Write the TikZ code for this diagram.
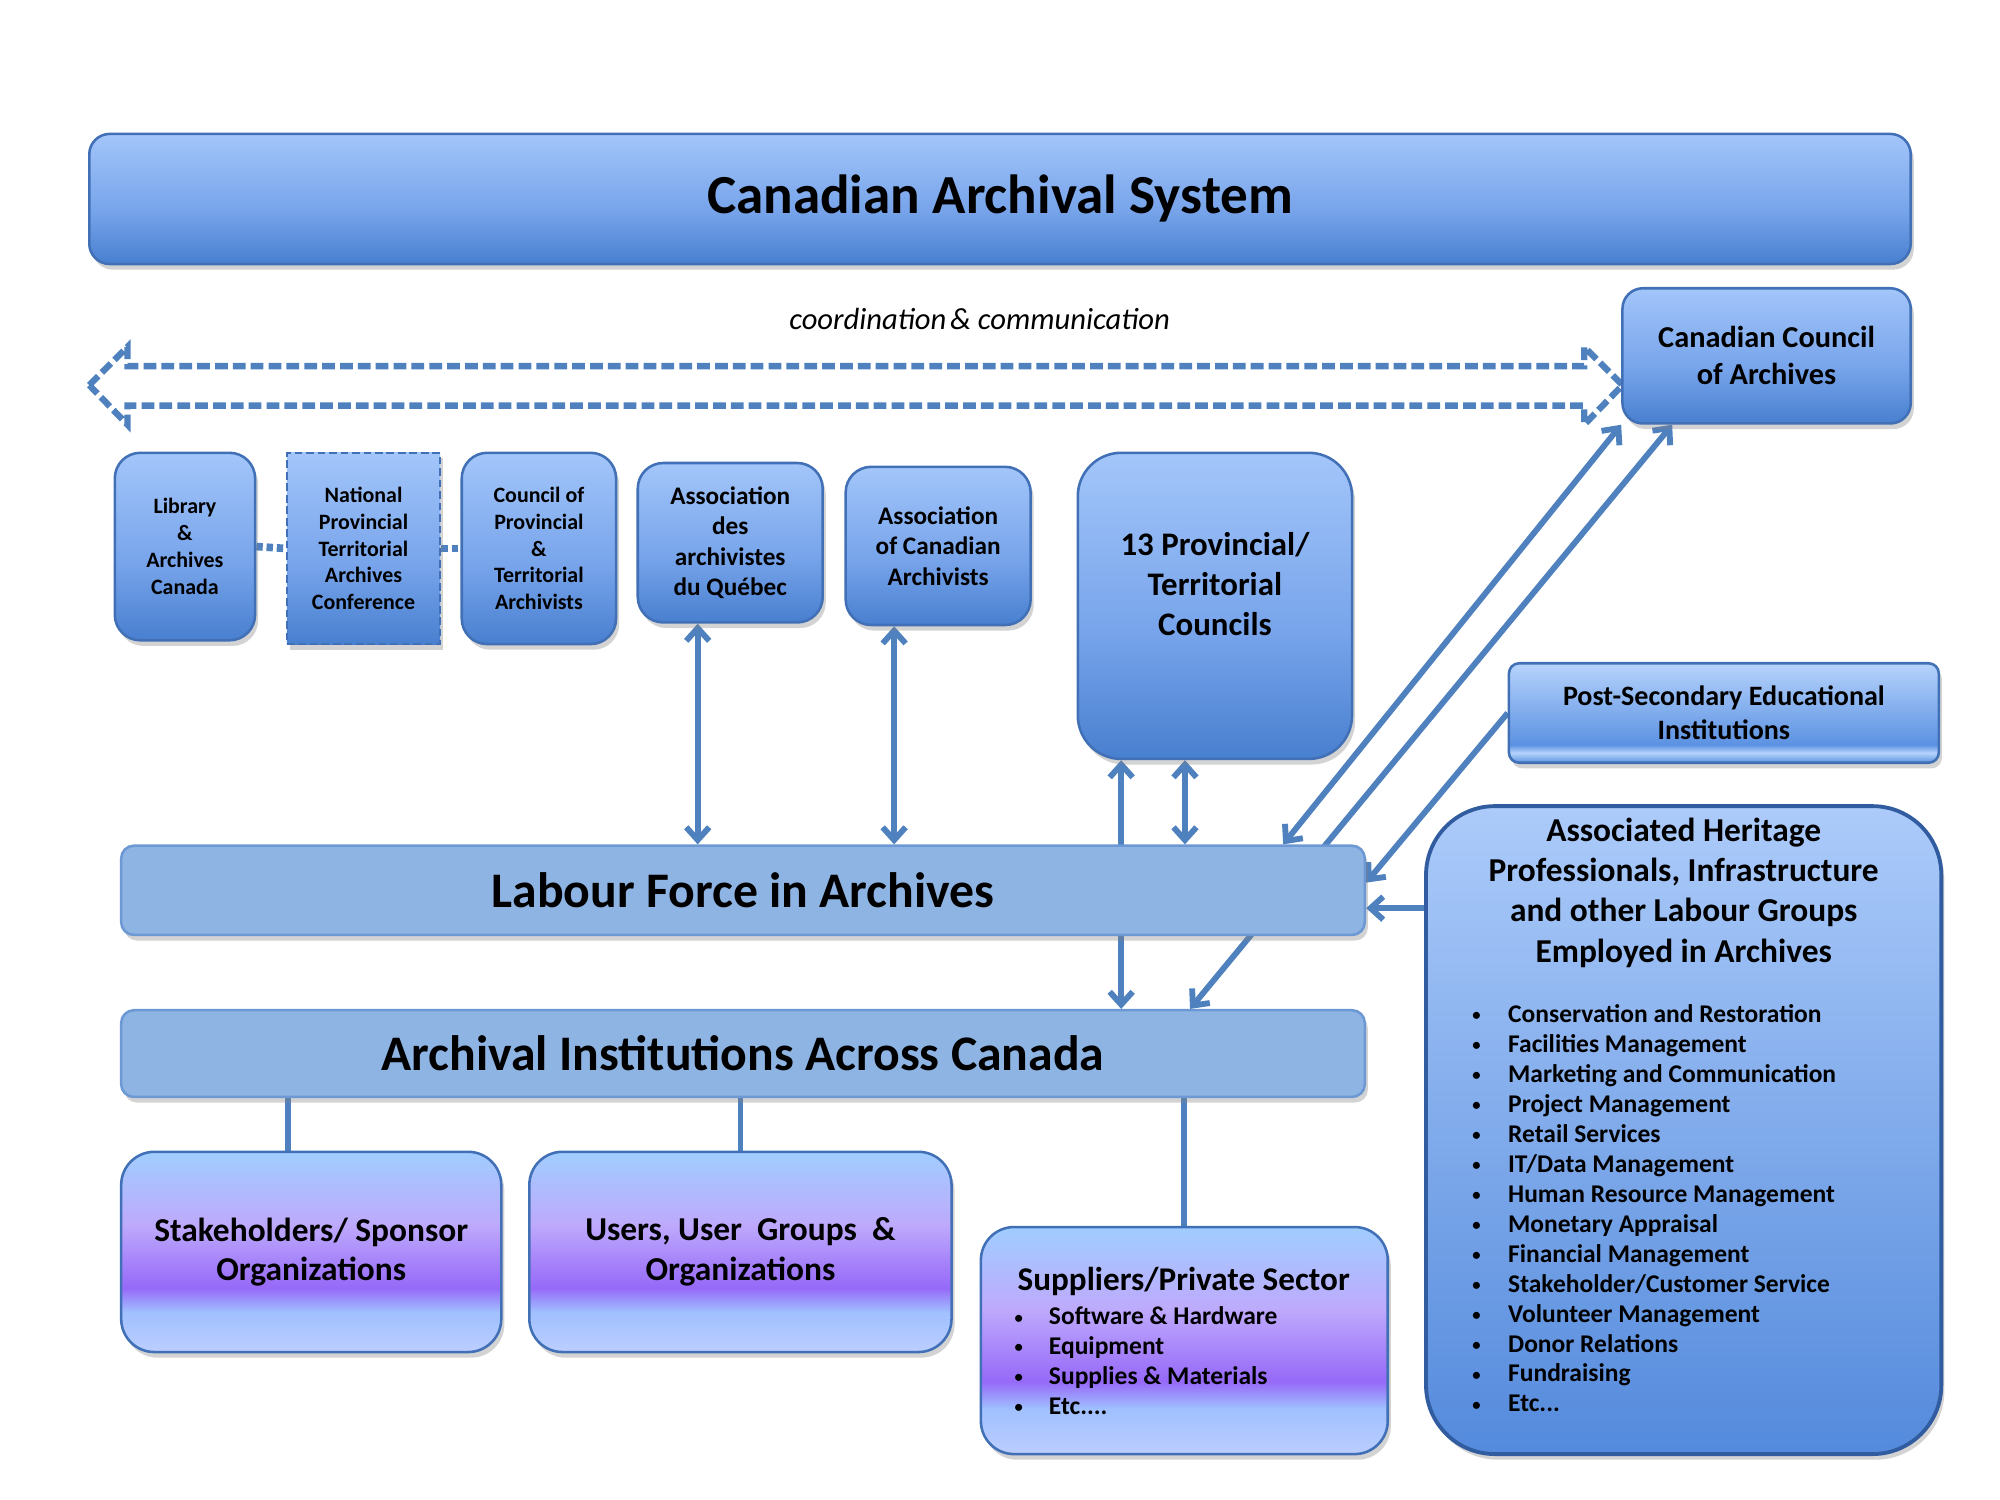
\documentclass[tikz,border=0pt]{standalone}
\usepackage{fontspec}
\usepackage{graphicx}
\setmainfont{Carlito}
\usetikzlibrary{arrows.meta,shadows,backgrounds}

\definecolor{edge}{RGB}{66,112,182}
\definecolor{arrowc}{RGB}{79,129,191}
\definecolor{barfill}{RGB}{142,180,227}
\definecolor{barline}{RGB}{108,152,212}
\definecolor{bL}{RGB}{163,198,250}
\definecolor{bM}{RGB}{118,163,234}
\definecolor{bD}{RGB}{72,127,207}
\definecolor{aL}{RGB}{172,203,250}
\definecolor{aD}{RGB}{84,138,220}
\definecolor{aedge}{RGB}{50,92,160}
\definecolor{psL}{RGB}{182,211,252}
\definecolor{psD}{RGB}{92,146,226}
\definecolor{pA}{RGB}{188,206,255}
\definecolor{pB}{RGB}{160,192,255}
\definecolor{pC}{RGB}{150,105,248}
\definecolor{pD}{RGB}{190,170,252}
\definecolor{pE}{RGB}{160,205,255}

\pgfdeclareverticalshading{bluegrad}{100bp}{color(0bp)=(bD); color(25bp)=(bD); color(45bp)=(bM); color(75bp)=(bL); color(100bp)=(bL)}
\pgfdeclareverticalshading{assocgrad}{100bp}{color(0bp)=(aD); color(25bp)=(aD); color(75bp)=(aL); color(100bp)=(aL)}
\pgfdeclareverticalshading{postgrad}{100bp}{color(0bp)=(psD); color(25bp)=(psD); color(30bp)=(psL); color(34bp)=(psD); color(75bp)=(psL); color(100bp)=(psL)}
\pgfdeclareverticalshading{purpgrad}{100bp}{color(0bp)=(pA); color(25bp)=(pA); color(35bp)=(pB); color(41bp)=(pC); color(57bp)=(pD); color(75bp)=(pE); color(100bp)=(pE)}

\newcommand{\fsz}[2]{\fontsize{#1}{#2}\selectfont}
\newcommand{\smbul}{\raisebox{0.6pt}{\scalebox{0.65}{\textbullet}}}
\newcommand{\bul}{\makebox[14pt][l]{\smbul}}
\newcommand{\bulb}{\makebox[13.5pt][l]{\smbul}}

\begin{document}
\begin{tikzpicture}[x=0.5pt,y=-0.5pt,
  sz/.style 2 args={minimum width=#1*0.5pt, minimum height=#2*0.5pt},
  shad/.style={drop shadow={opacity=0.35,shadow xshift=1.2pt,shadow yshift=-2.2pt}},
  bbox/.style={draw=edge, line width=1pt, shading=bluegrad, shad, inner sep=1pt, align=center, font=\bfseries},
  barbox/.style={draw=barline, line width=1pt, fill=barfill, shad, rounded corners=5pt, inner sep=1pt, font=\bfseries\fsz{19.5}{23}},
  purpbox/.style={draw=edge, line width=1pt, shading=purpgrad, shad, rounded corners=13pt, inner sep=1pt, align=center, font=\bfseries\fsz{13.1}{15.5}},
  txt/.style={inner sep=0pt, align=center, font=\bfseries},
  lst/.style={inner sep=0pt, align=left, anchor=north west, font=\bfseries\fsz{10}{11.75}},
  conn/.style={draw=arrowc, line width=2.3pt},
  arr/.style={conn, -{Straight Barb[length=5pt,width=9pt]}},
  dbl/.style={conn, {Straight Barb[length=5pt,width=9pt]}-{Straight Barb[length=5pt,width=9pt]}},
  dotlink/.style={draw=arrowc, line width=3pt, dash pattern=on 2.5pt off 1.5pt}
]
\useasboundingbox (0,0) rectangle (1568,1176);

% top bar
\node[bbox, sz={1428}{102}, rounded corners=8pt, font=\bfseries\fsz{21.6}{25}] (top) at (784,156) {Canadian Archival System};

% coordination label
\node[inner sep=0pt, font=\itshape\fsz{12}{14}] (coord) at (768,250) {coordination\hspace{1.5pt}\& communication};

% dashed double block arrow
\draw[arrowc, line width=2.5pt, dash pattern=on 5pt off 2pt, line join=miter]
  (70,302) -- (100,272) -- (100,287) -- (1242,287) -- (1242,272) -- (1272,302)
  -- (1242,333) -- (1242,318) -- (100,318) -- (100,333) -- cycle;

% CCA
\node[bbox, sz={226}{106}, rounded corners=8pt, font=\bfseries\fsz{11.9}{14.5}] (cca) at (1385,279) {Canadian Council\\of Archives};

% small boxes
\node[bbox, sz={110}{147}, rounded corners=10pt, font=\bfseries\fsz{8.6}{10.5}] (lac) at (145,428.5) {Library\\\&\\Archives\\Canada};
\node[bbox, sz={120}{150}, dash pattern=on 3pt off 1.5pt, font=\bfseries\fsz{8.6}{10.5}] (nptac) at (285,430) {National\\Provincial\\Territorial\\Archives\\Conference};
\node[bbox, sz={121}{150}, rounded corners=10pt, font=\bfseries\fsz{8.6}{10.5}] (cpta) at (422.5,430) {Council of\\Provincial\\\&\\Territorial\\Archivists};
\node[bbox, sz={145}{125}, rounded corners=10pt, font=\bfseries\fsz{9.9}{12}] (aaq) at (572.5,425.5) {Association\\des\\archivistes\\du Québec};
\node[bbox, sz={145}{124}, rounded corners=10pt, font=\bfseries\fsz{9.9}{12}] (aca) at (735.5,428) {Association\\of Canadian\\Archivists};
\node[bbox, sz={215}{240}, rounded corners=17pt] (ptc) at (952.5,475) {};
\node[txt, font=\bfseries\fsz{12.9}{15.7}] (ptct) at (952.5,458) {13 Provincial/\\Territorial\\Councils};

% post-secondary
\node[draw=edge, line width=1pt, shading=postgrad, shad, rounded corners=4pt, sz={337}{78}, inner sep=1pt, align=center, font=\bfseries\fsz{11}{13.5}] (post) at (1351.5,559) {Post-Secondary Educational\\Institutions};

% bars
\node[barbox, sz={975}{70}] (labour) at (582.5,698) {Labour Force in Archives};
\node[barbox, sz={975}{68}] (archival) at (582.5,826) {Archival Institutions Across Canada};

% associated heritage
\node[draw=aedge, line width=1.5pt, shading=assocgrad, shad, rounded corners=27pt, sz={404}{508}] (assoc) at (1320,886) {};
\node[txt, font=\bfseries\fsz{13.1}{15.7}] (assoct) at (1320,700) {Associated Heritage\\Professionals, Infrastructure\\and other Labour Groups\\Employed in Archives};
\node[lst] (assocl) at (1154,787) {\bul Conservation and Restoration\\\bul Facilities Management\\\bul Marketing and Communication\\\bul Project Management\\\bul Retail Services\\\bul IT/Data Management\\\bul Human Resource Management\\\bul Monetary Appraisal\\\bul Financial Management\\\bul Stakeholder/Customer Service\\\bul Volunteer Management\\\bul Donor Relations\\\bul Fundraising\\\bul Etc...};

% bottom boxes
\node[purpbox, sz={298}{157}] (stake) at (244,981.5) {Stakeholders/ Sponsor\\Organizations};
\node[purpbox, sz={331}{157}] (users) at (580.5,981.5) {Users, User\ \ Groups\ \ \&\\Organizations};
\node[purpbox, sz={319}{178}] (supp) at (928.5,1051) {};
\node[txt, font=\bfseries\fsz{13}{15}] (suppt) at (928,1005) {Suppliers/Private Sector};
\node[lst] (suppl) at (795,1024) {\bulb Software \& Hardware\\\bulb Equipment\\\bulb Supplies \& Materials\\\bulb Etc....};

% connectors
\begin{scope}[on background layer]
\draw[dotlink] (lac.east) -- (nptac.west);
\draw[dotlink] (nptac.east) -- (cpta.west);
\draw[dbl] ([xshift=-12.75pt]aaq.south) -- ([xshift=-12.75pt]aaq.south |- labour.north);
\draw[dbl] ([xshift=-17.25pt]aca.south) -- ([xshift=-17.25pt]aca.south |- labour.north);
\draw[dbl] ([xshift=-36.75pt]ptc.south) -- ([xshift=-36.75pt]ptc.south |- archival.north);
\draw[dbl] ([xshift=-11.75pt]ptc.south) -- ([xshift=-11.75pt]ptc.south |- labour.north);
\draw[dbl] (cca.south west) -- ([xshift=-32.5pt]labour.north east);
\draw[dbl] ([xshift=20pt]cca.south west) -- ([xshift=-69pt]archival.north east);
\draw[arr] (post.west) -- ([yshift=3pt]labour.east);
\draw[arr] ([yshift=-7pt]labour.east -| assoc.west) -- ([yshift=-7pt]labour.east);
\draw[conn] ([xshift=-9pt]stake.north |- archival.south) -- ([xshift=-9pt]stake.north);
\draw[conn] (users.north |- archival.south) -- (users.north);
\draw[conn] (supp.north |- archival.south) -- (supp.north);
\end{scope}
\end{tikzpicture}
\end{document}
